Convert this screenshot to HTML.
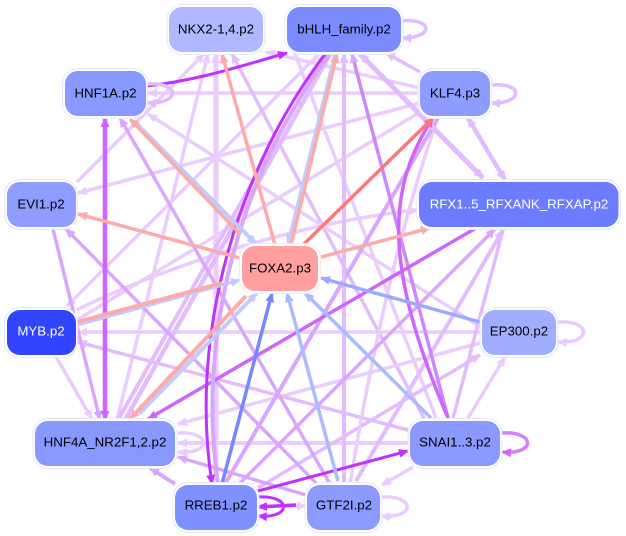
<!DOCTYPE html>
<html>
<head>
<meta charset="utf-8">
<style>
html,body{margin:0;padding:0;background:#fff}
svg{display:block}
text{font-family:"Liberation Sans",sans-serif;font-size:13.3px;text-anchor:middle;dominant-baseline:central}
.l{fill:none}
.a{stroke:#EBCCFF}.b{stroke:#E3BBFF}.c{stroke:#D9A6FF}.d{stroke:#CC66FF}.e{stroke:#C030FF}.f{stroke:#FFAAAA}.g{stroke:#FF7777}.h{stroke:#C0CCFF}.i{stroke:#AABBFF}.j{stroke:#7788FF}.k{stroke:#99AAFF}
.r{fill:#fff;stroke:#E4E7FF;stroke-width:1}
</style>
</head>
<body>
<svg xmlns="http://www.w3.org/2000/svg" width="626" height="536" viewBox="0 0 626 536">
<defs>
<marker id="a" markerUnits="userSpaceOnUse" markerWidth="11" markerHeight="10" refX="9" refY="5" orient="auto-start-reverse"><path d="M0,0.5L10,5L0,9.500z" fill="#EBCCFF"/></marker>
<marker id="b" markerUnits="userSpaceOnUse" markerWidth="11" markerHeight="10" refX="9" refY="5" orient="auto-start-reverse"><path d="M0,0.5L10,5L0,9.500z" fill="#E3BBFF"/></marker>
<marker id="c" markerUnits="userSpaceOnUse" markerWidth="11" markerHeight="10" refX="9" refY="5" orient="auto-start-reverse"><path d="M0,0.5L10,5L0,9.500z" fill="#D9A6FF"/></marker>
<marker id="d" markerUnits="userSpaceOnUse" markerWidth="11" markerHeight="10" refX="9" refY="5" orient="auto-start-reverse"><path d="M0,0.5L10,5L0,9.500z" fill="#CC66FF"/></marker>
<marker id="e" markerUnits="userSpaceOnUse" markerWidth="11" markerHeight="10" refX="9" refY="5" orient="auto-start-reverse"><path d="M0,0.5L10,5L0,9.500z" fill="#C030FF"/></marker>
<marker id="f" markerUnits="userSpaceOnUse" markerWidth="11" markerHeight="10" refX="9" refY="5" orient="auto-start-reverse"><path d="M0,0.5L10,5L0,9.500z" fill="#FFAAAA"/></marker>
<marker id="g" markerUnits="userSpaceOnUse" markerWidth="11" markerHeight="10" refX="9" refY="5" orient="auto-start-reverse"><path d="M0,0.5L10,5L0,9.500z" fill="#FF7777"/></marker>
<marker id="h" markerUnits="userSpaceOnUse" markerWidth="11" markerHeight="10" refX="9" refY="5" orient="auto-start-reverse"><path d="M0,0.5L10,5L0,9.500z" fill="#C0CCFF"/></marker>
<marker id="i" markerUnits="userSpaceOnUse" markerWidth="11" markerHeight="10" refX="9" refY="5" orient="auto-start-reverse"><path d="M0,0.5L10,5L0,9.500z" fill="#AABBFF"/></marker>
<marker id="j" markerUnits="userSpaceOnUse" markerWidth="11" markerHeight="10" refX="9" refY="5" orient="auto-start-reverse"><path d="M0,0.5L10,5L0,9.500z" fill="#7788FF"/></marker>
<marker id="k" markerUnits="userSpaceOnUse" markerWidth="11" markerHeight="10" refX="9" refY="5" orient="auto-start-reverse"><path d="M0,0.5L10,5L0,9.500z" fill="#99AAFF"/></marker>
</defs>

<g class="l" stroke-width="3.500">
<!-- pale edges -->
<path class="a" d="M420,93L148,93" marker-end="url(#a)"/>
<path class="a" d="M420,88L266,52" marker-end="url(#a)"/>
<path class="a" d="M420,103L78,193" marker-end="url(#a)"/>
<path class="a" d="M420,112L77,320"/>
<path class="a" d="M320,53L67,306" marker-end="url(#a)"/>
<path class="a" d="M77,182L204,54" marker-end="url(#a)"/>
<path class="a" d="M117,420L208,54" marker-end="url(#a)"/>
<path class="a" d="M216,484L216,54" stroke-width="5" marker-end="url(#a)"/>
<path class="b" d="M425,420L232,54" marker-end="url(#b)"/>
<path class="a" d="M436,418L295,54"/>
<path class="a" d="M148,114L482,328" marker-start="url(#a)"/>
<path class="a" d="M77,310C160,268 300,222 418,210" marker-end="url(#a)"/>
<path class="a" d="M480,332L78,332" marker-end="url(#a)"/>
<path class="a" d="M480,343L178,424" marker-end="url(#a)"/>
<path class="b" d="M408,430L78,342" marker-end="url(#b)"/>
<path class="a" d="M409,443L178,443" stroke-width="4" marker-end="url(#a)"/>
<path class="a" d="M413,467L382,485" marker-end="url(#a)"/>
<path class="a" d="M55,355L92,419" marker-end="url(#a)"/>
<path class="b" d="M480,355L258,488" marker-start="url(#b)"/>
<path class="a" d="M468,418L505,357" marker-end="url(#a)"/>
<path class="b" d="M453,418L503,230"/>
<path class="a" d="M437,120Q385,270 350,484"/>
<path class="c" d="M438,118L225,484" stroke-width="4"/>
<path class="b" d="M344,484L344,54" stroke-width="4" marker-end="url(#b)"/>
<path class="b" d="M118,420L325,54" stroke-width="4" marker-end="url(#b)"/>
<path class="b" d="M125,420L330,54" stroke-width="4.500"/>
<path class="b" d="M483,178L360,54" stroke-width="5" marker-start="url(#b)" marker-end="url(#b)"/>
<path class="b" d="M468,118L505,180" stroke-width="4.500" marker-start="url(#b)" marker-end="url(#b)"/>
<path class="b" d="M420,72L386,53" marker-end="url(#b)"/>
<path class="b" d="M356,481L503,230" stroke-width="4" marker-end="url(#b)"/>
<path class="c" d="M240,483L495,229" marker-end="url(#c)"/>
<path class="c" d="M320,487L66,229" marker-end="url(#c)"/>
<path class="c" d="M53,229L100,420" marker-end="url(#c)"/>
<path class="c" d="M330,484L120,118" marker-end="url(#c)"/>
<path class="c" d="M448,418L352,54" stroke="#CC88FF" style="stroke:#CC88FF" marker-end="url(#c)"/>
<path class="c" d="M306,495L178,457" marker-end="url(#c)"/>
<path class="c" d="M150,468L175,484" stroke-width="4" marker-start="url(#c)"/>
<!-- strong edges -->
<path class="d" d="M105,420L105,118" stroke-width="4.500" marker-start="url(#d)" marker-end="url(#d)"/>
<path class="d" d="M476,228L148,419" marker-end="url(#d)"/>
<path class="d" d="M448,418C385,270 385,190 433,118" marker-end="url(#d)"/>
<path class="c" d="M330,54C245,165 195,330 218,484" stroke-width="4"/>
<path class="e" d="M326,53C240,165 188,330 212,484" stroke-width="3" marker-end="url(#e)"/>
<path class="e" d="M147,86C200,80 240,66 287,53" stroke-width="3" marker-end="url(#e)"/>
<path class="e" d="M258,491L408,451" stroke-width="3" marker-end="url(#e)"/>
<!-- pink / blue -->
<path class="h" d="M335,54L288,244" marker-end="url(#h)"/>
<path class="f" d="M291,245L337,54" marker-end="url(#f)"/>
<path class="f" d="M275,245L222,54" marker-end="url(#f)"/>
<path class="f" d="M240,258L78,214" marker-end="url(#f)"/>
<path class="f" d="M321,257L430,228" marker-end="url(#f)"/>
<path class="g" d="M303,245L433,118" marker-end="url(#g)"/>
<path class="h" d="M134,121L256,244" stroke-width="4" marker-end="url(#h)"/>
<path class="f" d="M240,234L130,119" marker-end="url(#f)"/>
<path class="h" d="M77,325L240,280" marker-end="url(#h)"/>
<path class="f" d="M77,322L222,283" stroke-width="4"/>
<path class="h" d="M139,414L257,293" stroke-width="4" marker-end="url(#h)"/>
<path class="f" d="M246,296L130,419" stroke-width="4" marker-end="url(#f)"/>
<path class="j" d="M222,484L272,293" marker-end="url(#j)"/>
<path class="i" d="M338,481L287,293" marker-end="url(#i)"/>
<path class="i" d="M431,418L305,293" marker-end="url(#i)"/>
<path class="k" d="M480,322L321,278" marker-end="url(#k)"/>
<!-- self loops -->
<path class="b" d="M401,21C434,18 434,38 402,38" marker-end="url(#b)"/>
<path class="b" d="M491,85C524,82 524,104 491,103" marker-end="url(#b)"/>
<path class="b" d="M147,84C181,82 181,104 147,103" marker-end="url(#b)"/>
<path class="a" d="M558,322C592,320 592,344 558,342" marker-end="url(#a)"/>
<path class="a" d="M178,433C212,431 212,455 178,452" marker-end="url(#a)"/>
<path d="M502,433C536,431 536,455 502,452" stroke="#D27FFF" marker-end="url(#d)"/>
<path class="e" d="M258,497C292,495 292,519 258,516" stroke-width="3" marker-end="url(#e)"/>
<path class="a" d="M381,497C416,495 416,519 381,516" marker-end="url(#a)"/>
<path class="a" d="M258,506L306,506" marker-end="url(#a)"/>
<path class="e" d="M296,505L258,507" marker-end="url(#e)"/>
</g>

<!-- nodes -->
<rect class="r" x="167" y="4.500" width="98" height="50" rx="15"/><rect x="169" y="7" width="94" height="45" rx="13" fill="#B0B8FF"/>
<text x="216" y="29">NKX2-1,4.p2</text>
<rect class="r" x="285" y="4.500" width="118" height="50" rx="15"/><rect x="287" y="7" width="114" height="45" rx="13" fill="#7B8AFF"/>
<text x="344" y="29">bHLH_family.p2</text>
<rect class="r" x="62.500" y="68.500" width="85" height="50" rx="15"/><rect x="65" y="71" width="81" height="45" rx="13" fill="#8899FF"/>
<text x="105.500" y="93">HNF1A.p2</text>
<rect class="r" x="418" y="68.500" width="74" height="50" rx="15"/><rect x="420" y="71" width="70" height="45" rx="13" fill="#8F9CFF"/>
<text x="455" y="93">KLF4.p3</text>
<rect class="r" x="4.500" y="179.500" width="73" height="50" rx="15"/><rect x="7" y="182" width="69" height="45" rx="13" fill="#8E9DFF"/>
<text x="41" y="204">EVI1.p2</text>
<rect class="r" x="417" y="179.500" width="203.500" height="50" rx="15"/><rect x="419" y="182" width="199.500" height="45" rx="13" fill="#6C7CFF"/>
<text x="519" y="204" fill="#fff">RFX1..5_RFXANK_RFXAP.p2</text>
<rect class="r" x="239.500" y="243.500" width="81" height="50" rx="15" style="stroke:#FFE8E8"/><rect x="242" y="246" width="76" height="45" rx="13" fill="#FF9FA0"/>
<text x="280" y="268">FOXA2.p3</text>
<rect class="r" x="4.500" y="307.500" width="73" height="50" rx="15"/><rect x="7" y="310" width="69" height="45" rx="13" fill="#3344FF"/>
<text x="41" y="331" fill="#fff">MYB.p2</text>
<rect class="r" x="480" y="307.500" width="78" height="50" rx="15"/><rect x="482" y="310" width="74" height="45" rx="13" fill="#A0AEFF"/>
<text x="519" y="331">EP300.p2</text>
<rect class="r" x="33" y="418.500" width="144" height="50" rx="15"/><rect x="35" y="421" width="140" height="45" rx="13" fill="#8898FF"/>
<text x="105" y="442">HNF4A_NR2F1,2.p2</text>
<rect class="r" x="408" y="418.500" width="94" height="50" rx="15"/><rect x="410" y="421" width="90" height="45" rx="13" fill="#8B98FF"/>
<text x="455" y="442">SNAI1..3.p2</text>
<rect class="r" x="173" y="482.500" width="86" height="50" rx="15"/><rect x="175" y="485" width="82" height="45" rx="13" fill="#7F90FF"/>
<text x="216" y="505">RREB1.p2</text>
<rect class="r" x="305" y="482.500" width="77" height="50" rx="15"/><rect x="307" y="485" width="73" height="45" rx="13" fill="#8C9AFF"/>
<text x="344" y="505">GTF2I.p2</text>
</svg>
</body>
</html>
